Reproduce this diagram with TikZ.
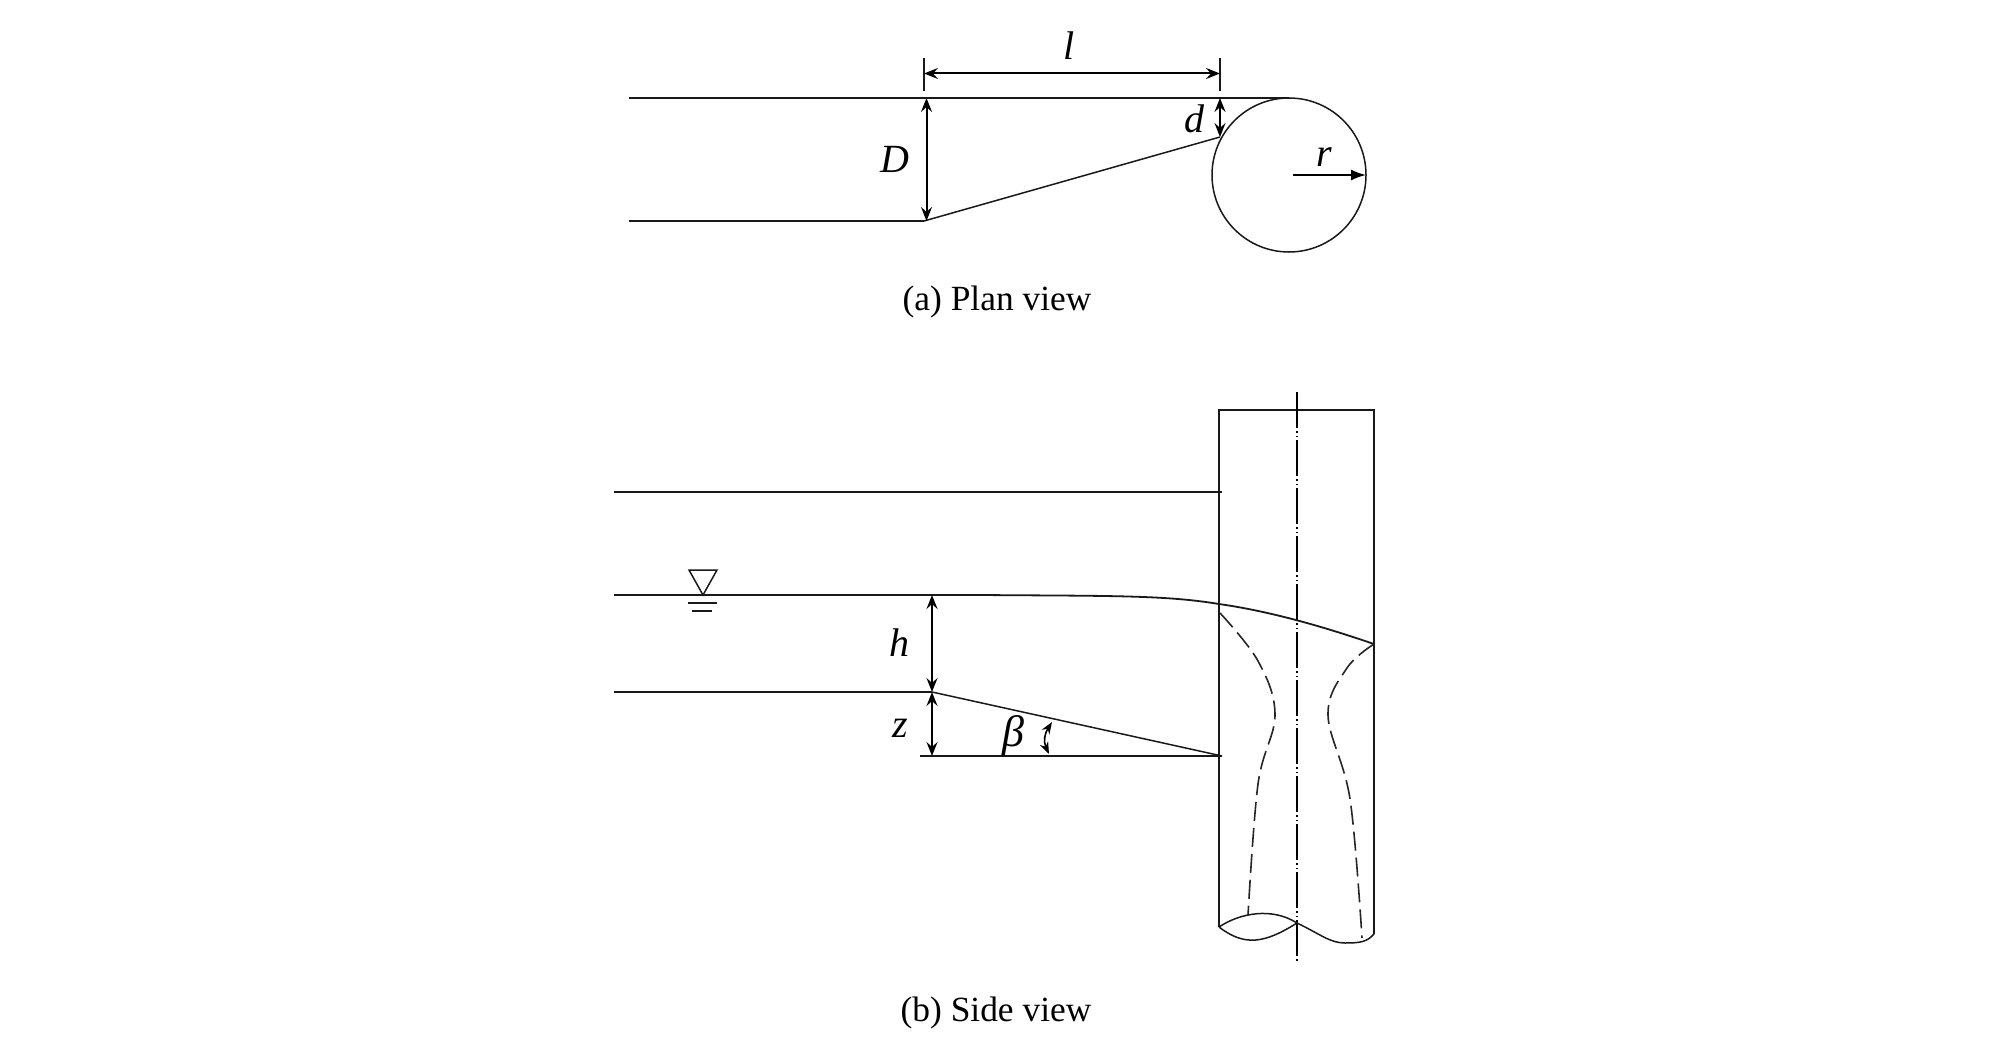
\documentclass[tikz,border=0pt]{standalone}
\usepackage{fontspec}
\setmainfont{Liberation Serif}
\usetikzlibrary{arrows.meta}
\tikzset{
  line/.style={draw=black!90,line width=1.8pt},
  thin line/.style={draw=black!90,line width=1.5pt},
  dim/.style={draw=black,line width=2pt,{Stealth[length=14pt,width=11pt,inset=5pt]}-{Stealth[length=14pt,width=11pt,inset=5pt]}},
  sym/.style={font=\fontsize{40}{44}\selectfont\itshape,inner sep=0pt},
  caption/.style={font=\fontsize{35.4}{40}\selectfont,inner sep=0pt},
  dashcurve/.style={draw=black!85,line width=1.6pt,dash pattern=on 19pt off 7pt},
  axis/.style={draw=black,line width=1.4pt,dash pattern=on 36pt off 3pt on 1.5pt off 3pt on 1.5pt off 3pt}
}
\begin{document}
\begin{tikzpicture}[x=1pt,y=-1pt]
\useasboundingbox (0,0) rectangle (2008,1041);
% ---- plan view
\coordinate (tl) at (629,98); \coordinate (tt) at (1289,98);
\coordinate (bl) at (629,221); \coordinate (bm) at (924,221);
\coordinate (cc) at (1289,175); \coordinate (cr) at (1366,175);
\coordinate (rs) at (1293,175);
\coordinate (dt) at (1220,98); \coordinate (db) at (1220,137);
\coordinate (e1a) at (924,58); \coordinate (e1b) at (924,91);
\coordinate (e2a) at (1220,58); \coordinate (e2b) at (1220,91);
\coordinate (la) at (924,73.5); \coordinate (lb) at (1220,73.5);
\coordinate (Da) at (926.5,98); \coordinate (Db) at (926.5,221);
\draw[line] (tl) -- (tt);
\draw[line] (bl) -- (bm);
\draw[thin line] (bm) -- (db);
\draw[thin line] (cc) circle[radius=77pt];
\draw[thin line] (e1a) -- (e1b);
\draw[thin line] (e2a) -- (e2b);
\draw[dim] (la) -- (lb);
\draw[dim] (Da) -- (Db);
\draw[dim] (dt) -- (db);
\draw[draw=black,line width=1.7pt,-{Latex[length=15pt,width=11pt]}] (rs) -- (cr);
\node[sym] (ll) at (1069,46) {l};
\node[sym] (lD) at (895,159) {D};
\node[sym] (ld) at (1194,119) {d};
\node[sym] (lr) at (1324,157) {r};
\node[caption] (capa) at (1001-4,302) {(a) Plan view};
% ---- side view
\coordinate (pa) at (1219,410); \coordinate (pb) at (1374,410);
\coordinate (pc) at (1219,927); \coordinate (pd) at (1374,934);
\draw[line] (pc) -- (pa) -- (pb) -- (pd);
\coordinate (axa) at (1297,392); \coordinate (axb) at (1297,962);
\draw[axis] (axa) -- (axb);
\coordinate (r1a) at (614,492); \coordinate (r1b) at (1222,492);
\draw[line] (r1a) -- (r1b);
\coordinate (wa) at (614,595); \coordinate (wb) at (980,595); \coordinate (wc) at (1219,604);
\coordinate (wd) at (1374,644);
\draw[line] (wa) -- (wb) .. controls (1110,596) and (1165,595) .. (wc) .. controls (1275,612) and (1330,629) .. (wd);
\coordinate (fa) at (614,692); \coordinate (fb) at (932,692); \coordinate (fc) at (1222,756); \coordinate (fd) at (920,756);
\draw[line] (fa) -- (fb);
\draw[thin line] (fb) -- (fc);
\draw[line] (fd) -- (fc);
\coordinate (ha) at (932,595); \coordinate (za) at (932,756);
\draw[dim] (ha) -- (fb);
\draw[dim] (fb) -- (za);
% water symbol
\coordinate (t1) at (689,570); \coordinate (t2) at (717,570); \coordinate (t3) at (703,595);
\draw[thin line] (t1) -- (t2) -- (t3) -- cycle;
\coordinate (g1a) at (688,603); \coordinate (g1b) at (717,603);
\coordinate (g2a) at (692,611); \coordinate (g2b) at (712,611);
\draw[thin line] (g1a) -- (g1b);
\draw[thin line] (g2a) -- (g2b);
% angle arrow
\coordinate (ba) at (1052,722); \coordinate (bb) at (1049,754);
\draw[draw=black,line width=1.6pt,{Stealth[length=12pt,width=9pt,inset=4pt]}-{Stealth[length=12pt,width=9pt,inset=4pt]}] (ba) .. controls (1045,733) and (1043,741) .. (bb);
% dashed profiles
\draw[dashcurve] plot[smooth,tension=0.6] coordinates {(1220,613) (1258,661) (1275,715) (1258,784) (1248,915)};
\draw[dashcurve] plot[smooth,tension=0.6] coordinates {(1374,644) (1347,668) (1328,715) (1350,799) (1362,938)};
% broken end
\coordinate (m) at (1297,923);
\draw[thin line] (pc) .. controls (1240,913) and (1272,907) .. (m);
\draw[thin line] (pc) .. controls (1245,947) and (1265,943) .. (m);
\draw[thin line] (m) .. controls (1320,934) and (1330,943) .. (1345,943) .. controls (1360,943) and (1367,942) .. (pd);
\node[sym] (lh) at (899,643) {h};
\node[sym] (lz) at (900,728) {z};
\node[sym,font=\fontsize{44}{48}\selectfont\itshape] (lb2) at (1013,736) {β};
\node[caption] (capb) at (1001-5,1013) {(b) Side view};
\end{tikzpicture}
\end{document}
